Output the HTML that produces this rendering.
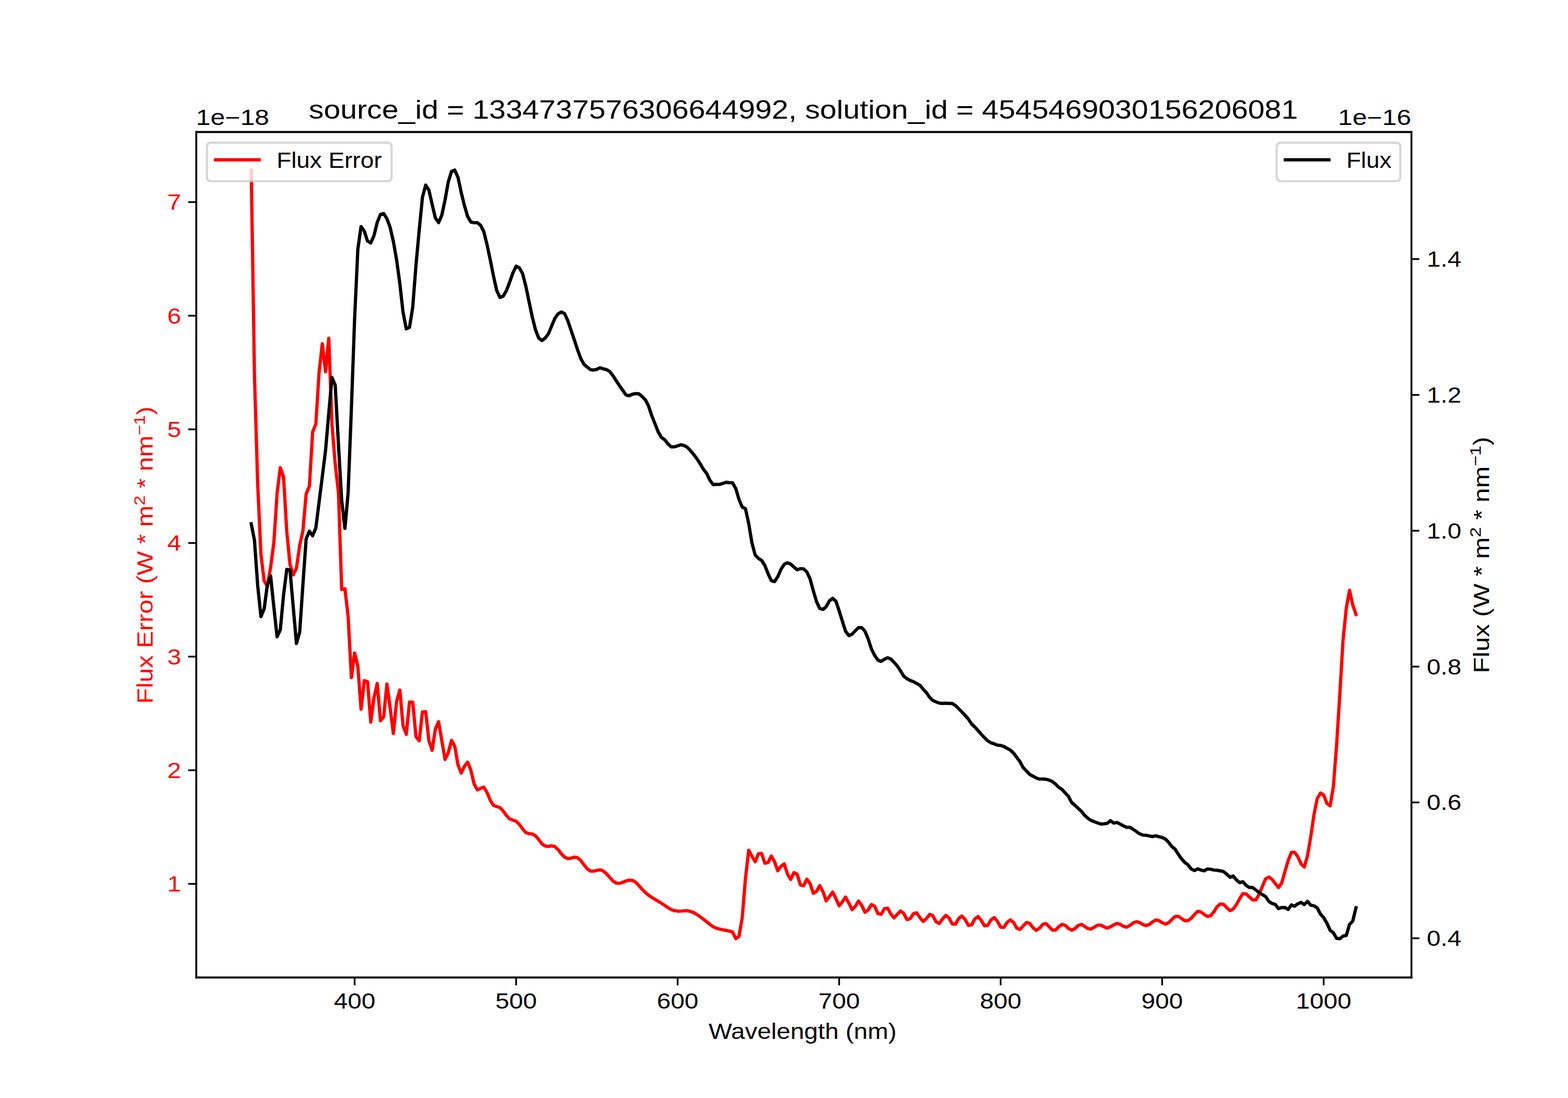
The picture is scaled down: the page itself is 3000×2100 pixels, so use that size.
<!DOCTYPE html>
<html lang="en"><head><meta charset="utf-8"><title>source_id = 1334737576306644992</title>
<style>
html,body{margin:0;padding:0;background:#fff}
body{width:3000px;height:2100px;overflow:hidden;font-family:"Liberation Sans",sans-serif}
svg{display:block}
svg text{font-family:"Liberation Sans",sans-serif}
</style></head><body>
<svg width="3000" height="2100" viewBox="0 0 720 504" role="img">
<defs>
<style type="text/css">*{stroke-linejoin: round; stroke-linecap: butt}</style>
</defs>
<g id="figure_1">
<g id="patch_1">
<path d="M 0 504  L 720 504  L 720 0  L 0 0  z " style="fill: #ffffff" />
</g>
<g id="axes_1">
<g id="patch_2">
<path d="M 90 448.56  L 648 448.56  L 648 60.48  L 90 60.48  z " style="fill: #ffffff" />
</g>
<g id="matplotlib.axis_1">
<g id="xtick_1">
<g id="line2d_1" transform="translate(0.0000 0.2160)">
<defs>
<path id="m1504cfccaf" d="M 0 0  L 0 3.5  " style="stroke: #000000; stroke-width: 0.8" />
</defs>
<g>
<use href="#m1504cfccaf" x="162.827751" y="448.56" style="stroke: #000000; stroke-width: 0.8" />
</g>
</g>
<g id="text_1" transform="translate(0.0000 -0.1440)">
<text x="153.284001" y="463.158437" font-size="10" fill="#000000" textLength="19.08" lengthAdjust="spacingAndGlyphs">400</text>
</g>
</g>
<g id="xtick_2">
<g id="line2d_2" transform="translate(0.0000 0.2160)">
<g>
<use href="#m1504cfccaf" x="236.990431" y="448.56" style="stroke: #000000; stroke-width: 0.8" />
</g>
</g>
<g id="text_2" transform="translate(0.0000 -0.1440)">
<text x="227.446681" y="463.158437" font-size="10" fill="#000000" textLength="19.08" lengthAdjust="spacingAndGlyphs">500</text>
</g>
</g>
<g id="xtick_3">
<g id="line2d_3" transform="translate(0.0000 0.2160)">
<g>
<use href="#m1504cfccaf" x="311.15311" y="448.56" style="stroke: #000000; stroke-width: 0.8" />
</g>
</g>
<g id="text_3" transform="translate(0.0000 -0.1440)">
<text x="301.60936" y="463.158437" font-size="10" fill="#000000" textLength="19.08" lengthAdjust="spacingAndGlyphs">600</text>
</g>
</g>
<g id="xtick_4">
<g id="line2d_4" transform="translate(0.0000 0.2160)">
<g>
<use href="#m1504cfccaf" x="385.315789" y="448.56" style="stroke: #000000; stroke-width: 0.8" />
</g>
</g>
<g id="text_4" transform="translate(0.0000 -0.1440)">
<text x="375.772039" y="463.158437" font-size="10" fill="#000000" textLength="19.08" lengthAdjust="spacingAndGlyphs">700</text>
</g>
</g>
<g id="xtick_5">
<g id="line2d_5" transform="translate(0.0000 0.2160)">
<g>
<use href="#m1504cfccaf" x="459.478469" y="448.56" style="stroke: #000000; stroke-width: 0.8" />
</g>
</g>
<g id="text_5" transform="translate(0.0000 -0.1440)">
<text x="449.934719" y="463.158437" font-size="10" fill="#000000" textLength="19.08" lengthAdjust="spacingAndGlyphs">800</text>
</g>
</g>
<g id="xtick_6">
<g id="line2d_6" transform="translate(0.0000 0.2160)">
<g>
<use href="#m1504cfccaf" x="533.641148" y="448.56" style="stroke: #000000; stroke-width: 0.8" />
</g>
</g>
<g id="text_6" transform="translate(0.0000 -0.1440)">
<text x="524.097398" y="463.158437" font-size="10" fill="#000000" textLength="19.08" lengthAdjust="spacingAndGlyphs">900</text>
</g>
</g>
<g id="xtick_7">
<g id="line2d_7" transform="translate(0.0000 0.2160)">
<g>
<use href="#m1504cfccaf" x="607.803828" y="448.56" style="stroke: #000000; stroke-width: 0.8" />
</g>
</g>
<g id="text_7" transform="translate(0.0000 -0.1440)">
<text x="595.078828" y="463.158437" font-size="10" fill="#000000" textLength="25.44" lengthAdjust="spacingAndGlyphs">1000</text>
</g>
</g>
<g id="text_8" transform="translate(-3.6162 0) scale(1.00980 1)">
<text x="325.807813" y="476.836563" font-size="10" fill="#000000" textLength="85.44" lengthAdjust="spacingAndGlyphs">Wavelength (nm)</text>
</g>
</g>
<g id="matplotlib.axis_2">
<g id="ytick_1">
<g id="line2d_8" transform="translate(-0.0720 0.0000)">
<defs>
<path id="m5d545ce8f8" d="M 0 0  L -3.5 0  " style="stroke: #000000; stroke-width: 0.8" />
</defs>
<g>
<use href="#m5d545ce8f8" x="90" y="405.72" style="stroke: #000000; stroke-width: 0.8" />
</g>
</g>
<g id="text_9" transform="translate(0.1560 -0.2160)">
<text x="76.6375" y="409.519219" font-size="10" fill="#ff0000" textLength="6.36" lengthAdjust="spacingAndGlyphs">1</text>
</g>
</g>
<g id="ytick_2">
<g id="line2d_9" transform="translate(-0.0720 0.0000)">
<g>
<use href="#m5d545ce8f8" x="90" y="353.56008" style="stroke: #000000; stroke-width: 0.8" />
</g>
</g>
<g id="text_10" transform="translate(0.1560 -0.2160)">
<text x="76.6375" y="357.359299" font-size="10" fill="#ff0000" textLength="6.36" lengthAdjust="spacingAndGlyphs">2</text>
</g>
</g>
<g id="ytick_3">
<g id="line2d_10" transform="translate(-0.0720 0.0000)">
<g>
<use href="#m5d545ce8f8" x="90" y="301.40016" style="stroke: #000000; stroke-width: 0.8" />
</g>
</g>
<g id="text_11" transform="translate(0.1560 -0.2160)">
<text x="76.6375" y="305.199379" font-size="10" fill="#ff0000" textLength="6.36" lengthAdjust="spacingAndGlyphs">3</text>
</g>
</g>
<g id="ytick_4">
<g id="line2d_11" transform="translate(-0.0720 0.0000)">
<g>
<use href="#m5d545ce8f8" x="90" y="249.24024" style="stroke: #000000; stroke-width: 0.8" />
</g>
</g>
<g id="text_12" transform="translate(0.1560 -0.2160)">
<text x="76.6375" y="253.039459" font-size="10" fill="#ff0000" textLength="6.36" lengthAdjust="spacingAndGlyphs">4</text>
</g>
</g>
<g id="ytick_5">
<g id="line2d_12" transform="translate(-0.0720 0.0000)">
<g>
<use href="#m5d545ce8f8" x="90" y="197.08032" style="stroke: #000000; stroke-width: 0.8" />
</g>
</g>
<g id="text_13" transform="translate(0.1560 -0.2160)">
<text x="76.6375" y="200.879539" font-size="10" fill="#ff0000" textLength="6.36" lengthAdjust="spacingAndGlyphs">5</text>
</g>
</g>
<g id="ytick_6">
<g id="line2d_13" transform="translate(-0.0720 0.0000)">
<g>
<use href="#m5d545ce8f8" x="90" y="144.9204" style="stroke: #000000; stroke-width: 0.8" />
</g>
</g>
<g id="text_14" transform="translate(0.1560 -0.2160)">
<text x="76.6375" y="148.719619" font-size="10" fill="#ff0000" textLength="6.36" lengthAdjust="spacingAndGlyphs">6</text>
</g>
</g>
<g id="ytick_7">
<g id="line2d_14" transform="translate(-0.0720 0.0000)">
<g>
<use href="#m5d545ce8f8" x="90" y="92.76048" style="stroke: #000000; stroke-width: 0.8" />
</g>
</g>
<g id="text_15" transform="translate(0.1560 -0.2160)">
<text x="76.6375" y="96.559699" font-size="10" fill="#ff0000" textLength="6.36" lengthAdjust="spacingAndGlyphs">7</text>
</g>
</g>
<g id="text_16">
<text transform="translate(70.197812 323.02) rotate(-90)" font-size="10" fill="#ff0000" textLength="136.42" lengthAdjust="spacingAndGlyphs">Flux Error (W * m<tspan font-size="7" dy="-3.8">2</tspan><tspan dy="3.8"> * nm</tspan><tspan font-size="7" dy="-3.8">−1</tspan><tspan dy="3.8">)</tspan></text>
</g>
<g id="text_17">
<text x="90" y="57.48" font-size="10" fill="#000000" textLength="33.63" lengthAdjust="spacingAndGlyphs">1e−18</text>
</g>
</g>
<g id="line2d_15">
<path d="M 115.363636 78.12  L 116.84689 172.56  L 118.330144 222.24  L 119.813397 254.472  L 121.296651 266.616  L 122.779904 269.112  L 124.263158 260.328  L 125.746411 249.048  L 127.229665 226.464  L 128.712919 214.68  L 130.196172 218.952  L 131.679426 244.032  L 133.162679 259.08  L 134.645933 263.88  L 136.129187 260.76  L 137.61244 250.296  L 139.095694 243.6  L 140.578947 226.68  L 142.062201 223.128  L 143.545455 198.36  L 145.028708 194.592  L 146.511962 170.976  L 147.995215 157.752  L 149.478469 170.64  L 150.961722 155.232  L 152.444976 194.808  L 153.92823 213.096  L 155.411483 226.056  L 156.894737 270.6  L 158.37799 270.24  L 159.861244 283.032  L 161.344498 311.04  L 162.827751 299.76  L 164.311005 305.808  L 165.794258 325.56  L 167.277512 312.384  L 168.760766 312.864  L 170.244019 331.464  L 171.727273 320.28  L 173.210526 313.728  L 174.69378 330.816  L 176.177033 329.088  L 177.660287 313.944  L 179.143541 324.96  L 180.626794 336.696  L 182.110048 321.96  L 183.593301 316.728  L 185.076555 333.12  L 186.559809 337.104  L 188.043062 322.248  L 189.526316 322.344  L 191.009569 338.136  L 192.492823 340.032  L 193.976077 326.784  L 195.45933 326.664  L 196.942584 340.032  L 198.425837 344.424  L 199.909091 334.584  L 201.392344 331.272  L 202.875598 340.032  L 204.358852 348.6  L 205.842105 345.456  L 207.325359 339.84  L 208.808612 342.528  L 210.291866 351.096  L 211.77512 354.864  L 213.258373 351.72  L 214.741627 349.848  L 216.22488 353.616  L 217.708134 359.88  L 219.191388 362.592  L 220.674641 361.872  L 222.157895 361.32  L 223.641148 363.768  L 225.124402 367.344  L 226.607656 369.696  L 228.090909 370.224  L 229.574163 370.704  L 231.057416 372.288  L 232.54067 374.328  L 234.023923 375.888  L 235.507177 376.464  L 236.990431 376.992  L 238.473684 378.408  L 239.956938 380.472  L 241.440191 382.176  L 242.923445 382.632  L 244.406699 382.824  L 245.889952 383.616  L 247.373206 385.392  L 248.856459 387.336  L 250.339713 388.344  L 251.822967 388.512  L 253.30622 388.248  L 254.789474 388.584  L 256.272727 390  L 257.755981 391.92  L 259.239234 393.432  L 260.722488 394.104  L 262.205742 393.936  L 263.688995 393.432  L 265.172249 393.696  L 266.655502 394.968  L 268.138756 396.96  L 269.62201 398.784  L 271.105263 399.792  L 272.588517 399.864  L 274.07177 399.528  L 275.555024 399.264  L 277.038278 399.792  L 278.521531 401.088  L 280.004785 402.792  L 281.488038 404.424  L 282.971292 405.36  L 284.454545 405.456  L 285.937799 405  L 287.421053 404.4  L 288.904306 403.992  L 290.38756 404.088  L 291.870813 404.952  L 293.354067 406.512  L 294.837321 408.168  L 296.320574 409.632  L 297.803828 410.904  L 299.287081 411.936  L 300.770335 412.848  L 302.253589 413.736  L 303.736842 414.648  L 305.220096 415.584  L 306.703349 416.616  L 308.186603 417.504  L 309.669856 418.008  L 311.15311 418.2  L 312.636364 418.2  L 314.119617 418.08  L 315.602871 418.08  L 317.086124 418.344  L 318.569378 418.92  L 320.052632 419.808  L 321.535885 420.84  L 323.019139 421.944  L 324.502392 423.12  L 325.985646 424.32  L 327.4689 425.376  L 328.952153 426.048  L 330.435407 426.48  L 331.91866 426.792  L 333.401914 427.056  L 334.885167 427.368  L 336.368421 427.824  L 337.851675 430.848  L 339.334928 429.72  L 340.818182 421.224  L 342.301435 403.248  L 343.784689 390.288  L 345.267943 393  L 346.751196 395.52  L 348.23445 391.872  L 349.717703 391.752  L 351.200957 396.216  L 352.684211 395.928  L 354.167464 392.928  L 355.650718 395.52  L 357.133971 399.696  L 358.617225 397.608  L 360.100478 396.552  L 361.583732 401.16  L 363.066986 403.68  L 364.550239 400.536  L 366.033493 401.232  L 367.516746 406.176  L 369 406.584  L 370.483254 403.536  L 371.966507 405.552  L 373.449761 410.064  L 374.933014 409.104  L 376.416268 406.512  L 377.899522 409.32  L 379.382775 413.496  L 380.866029 411.528  L 382.349282 409.512  L 383.832536 412.44  L 385.315789 415.8  L 386.799043 413.904  L 388.282297 411.816  L 389.76555 414.528  L 391.248804 417.6  L 392.732057 415.992  L 394.215311 413.616  L 395.698565 415.584  L 397.181818 418.728  L 398.665072 417.672  L 400.148325 415.176  L 401.631579 415.992  L 403.114833 419.352  L 404.598086 419.688  L 406.08134 417.12  L 407.564593 416.832  L 409.047847 419.544  L 410.5311 421.32  L 412.014354 419.712  L 413.497608 418.152  L 414.980861 419.28  L 416.464115 422.112  L 417.947368 421.704  L 419.430622 419.4  L 420.913876 418.992  L 422.397129 421.2  L 423.880383 422.952  L 425.363636 421.704  L 426.84689 419.736  L 428.330144 420.288  L 429.813397 423.096  L 431.296651 423.912  L 432.779904 421.824  L 434.263158 420.168  L 435.746411 421.296  L 437.229665 424.056  L 438.712919 424.224  L 440.196172 421.632  L 441.679426 420.456  L 443.162679 422.04  L 444.645933 424.752  L 446.129187 424.56  L 447.61244 421.824  L 449.095694 420.696  L 450.578947 422.448  L 452.062201 424.968  L 453.545455 424.752  L 455.028708 422.256  L 456.511962 421.2  L 457.995215 422.88  L 459.478469 425.592  L 460.961722 425.688  L 462.444976 423.432  L 463.92823 422.256  L 465.411483 423.432  L 466.894737 426.024  L 468.37799 426.648  L 469.861244 424.968  L 471.344498 423.432  L 472.827751 423.84  L 474.311005 425.808  L 475.794258 427.056  L 477.277512 426.096  L 478.760766 424.344  L 480.244019 423.912  L 481.727273 425.376  L 483.210526 426.936  L 484.69378 426.936  L 486.177033 425.376  L 487.660287 424.344  L 489.143541 424.752  L 490.626794 426.144  L 492.110048 426.984  L 493.593301 426.216  L 495.076555 424.824  L 496.559809 424.32  L 498.043062 425.184  L 499.526316 426.24  L 501.009569 426.432  L 502.492823 425.568  L 503.976077 424.68  L 505.45933 424.656  L 506.942584 425.4  L 508.425837 426.024  L 509.909091 425.4  L 511.392344 424.56  L 512.875598 423.864  L 514.358852 424.272  L 515.842105 425.184  L 517.325359 425.616  L 518.808612 424.776  L 520.291866 423.648  L 521.77512 423.096  L 523.258373 423.432  L 524.741627 424.368  L 526.22488 424.848  L 527.708134 424.368  L 529.191388 423.192  L 530.674641 422.256  L 532.157895 422.568  L 533.641148 423.528  L 535.124402 424.152  L 536.607656 423.528  L 538.090909 422.064  L 539.574163 420.672  L 541.057416 420.6  L 542.54067 421.632  L 544.023923 422.592  L 545.507177 422.592  L 546.990431 421.512  L 548.473684 419.76  L 549.956938 418.296  L 551.440191 418.584  L 552.923445 419.736  L 554.406699 420.624  L 555.889952 420.336  L 557.373206 418.56  L 558.856459 416.208  L 560.339713 414.96  L 561.822967 415.104  L 563.30622 416.64  L 564.789474 418.008  L 566.272727 417.24  L 567.755981 415.224  L 569.239234 412.488  L 570.722488 410.16  L 572.205742 410.352  L 573.688995 411.72  L 575.172249 413.064  L 576.655502 413.088  L 578.138756 410.568  L 579.62201 406.92  L 581.105263 403.416  L 582.588517 402.576  L 584.07177 403.56  L 585.555024 405.552  L 587.038278 407.424  L 588.521531 405.336  L 590.004785 400.08  L 591.488038 395.088  L 592.971292 391.248  L 594.454545 391.248  L 595.937799 393.216  L 597.421053 396.552  L 598.904306 398.016  L 600.38756 392.808  L 601.870813 384.024  L 603.354067 373.92  L 604.837321 366.6  L 606.320574 364.032  L 607.803828 364.92  L 609.287081 368.784  L 610.770335 369.888  L 612.253589 361.104  L 613.736842 342.096  L 615.220096 318.672  L 616.703349 293.784  L 618.186603 279.168  L 619.669856 270.96  L 621.15311 277.704  L 622.636364 282.096  " clip-path="url(#p6128e1a9c3)" style="fill: none; stroke: #ff0000; stroke-width: 1.5; stroke-linecap: square" />
</g>
<g id="patch_3" transform="translate(0.1200 0.1200)">
<path d="M 90 448.56  L 90 60.48  " style="fill: none; stroke: #000000; stroke-width: 0.8; stroke-linejoin: miter; stroke-linecap: square" />
</g>
<g id="patch_4" transform="translate(0.1200 0.1200)">
<path d="M 648 448.56  L 648 60.48  " style="fill: none; stroke: #000000; stroke-width: 0.8; stroke-linejoin: miter; stroke-linecap: square" />
</g>
<g id="patch_5" transform="translate(0.1200 0.1200)">
<path d="M 90 448.56  L 648 448.56  " style="fill: none; stroke: #000000; stroke-width: 0.8; stroke-linejoin: miter; stroke-linecap: square" />
</g>
<g id="patch_6" transform="translate(0.1200 0.1200)">
<path d="M 90 60.48  L 648 60.48  " style="fill: none; stroke: #000000; stroke-width: 0.8; stroke-linejoin: miter; stroke-linecap: square" />
</g>
<g id="text_18">
<text x="141.805313" y="54.48" font-size="12" fill="#000000" textLength="454.17" lengthAdjust="spacingAndGlyphs">source_id = 1334737576306644992, solution_id = 4545469030156206081</text>
</g>
<g id="legend_1">
<g id="patch_7">
<path d="M 97.000000 83.158125  L 177.814375 83.158125  Q 179.814375 83.158125 179.814375 81.158125  L 179.814375 67.48  Q 179.814375 65.48 177.814375 65.48  L 97.000000 65.48  Q 95.000000 65.48 95.000000 67.48  L 95.000000 81.158125  Q 95.000000 83.158125 97.000000 83.158125  z " style="fill: #ffffff; opacity: 0.8; stroke: #cccccc; stroke-linejoin: miter" />
</g>
<g id="line2d_16" transform="translate(0.0000 -0.2040)">
<path d="M 99 73.578438  L 109 73.578438  L 119 73.578438  " style="fill: none; stroke: #ff0000; stroke-width: 1.5; stroke-linecap: square" />
</g>
<g id="text_19" transform="translate(-1.1176 0) scale(1.00880 1)">
<text x="127" y="77.078438" font-size="10" fill="#000000" textLength="47.88" lengthAdjust="spacingAndGlyphs">Flux Error</text>
</g>
</g>
</g>
<g id="axes_2">
<g id="matplotlib.axis_3">
<g id="ytick_8">
<g id="line2d_17" transform="translate(0.2400 0.0000)">
<defs>
<path id="m33c4ce201d" d="M 0 0  L 3.5 0  " style="stroke: #000000; stroke-width: 0.8" />
</defs>
<g>
<use href="#m33c4ce201d" x="648" y="430.68" style="stroke: #000000; stroke-width: 0.8" />
</g>
</g>
<g id="text_20" transform="translate(0.1200 -0.2880)">
<text x="655" y="434.479219" font-size="10" fill="#000000" textLength="15.90" lengthAdjust="spacingAndGlyphs">0.4</text>
</g>
</g>
<g id="ytick_9">
<g id="line2d_18" transform="translate(0.2400 0.0000)">
<g>
<use href="#m33c4ce201d" x="648" y="368.328" style="stroke: #000000; stroke-width: 0.8" />
</g>
</g>
<g id="text_21" transform="translate(0.1200 -0.2880)">
<text x="655" y="372.127219" font-size="10" fill="#000000" textLength="15.90" lengthAdjust="spacingAndGlyphs">0.6</text>
</g>
</g>
<g id="ytick_10">
<g id="line2d_19" transform="translate(0.2400 0.0000)">
<g>
<use href="#m33c4ce201d" x="648" y="305.976" style="stroke: #000000; stroke-width: 0.8" />
</g>
</g>
<g id="text_22" transform="translate(0.1200 -0.2880)">
<text x="655" y="309.775219" font-size="10" fill="#000000" textLength="15.90" lengthAdjust="spacingAndGlyphs">0.8</text>
</g>
</g>
<g id="ytick_11">
<g id="line2d_20" transform="translate(0.2400 0.0000)">
<g>
<use href="#m33c4ce201d" x="648" y="243.624" style="stroke: #000000; stroke-width: 0.8" />
</g>
</g>
<g id="text_23" transform="translate(0.1200 -0.2880)">
<text x="655" y="247.423219" font-size="10" fill="#000000" textLength="15.90" lengthAdjust="spacingAndGlyphs">1.0</text>
</g>
</g>
<g id="ytick_12">
<g id="line2d_21" transform="translate(0.2400 0.0000)">
<g>
<use href="#m33c4ce201d" x="648" y="181.272" style="stroke: #000000; stroke-width: 0.8" />
</g>
</g>
<g id="text_24" transform="translate(0.1200 -0.2880)">
<text x="655" y="185.071219" font-size="10" fill="#000000" textLength="15.90" lengthAdjust="spacingAndGlyphs">1.2</text>
</g>
</g>
<g id="ytick_13">
<g id="line2d_22" transform="translate(0.2400 0.0000)">
<g>
<use href="#m33c4ce201d" x="648" y="118.92" style="stroke: #000000; stroke-width: 0.8" />
</g>
</g>
<g id="text_25" transform="translate(0.1200 -0.2880)">
<text x="655" y="122.719219" font-size="10" fill="#000000" textLength="15.90" lengthAdjust="spacingAndGlyphs">1.4</text>
</g>
</g>
<g id="text_26">
<text transform="translate(683.683438 309.02) rotate(-90)" font-size="10" fill="#000000" textLength="108.50" lengthAdjust="spacingAndGlyphs">Flux (W * m<tspan font-size="7" dy="-3.8">2</tspan><tspan dy="3.8"> * nm</tspan><tspan font-size="7" dy="-3.8">−1</tspan><tspan dy="3.8">)</tspan></text>
</g>
<g id="text_27">
<text x="614.379688" y="57.48" font-size="10" fill="#000000" textLength="33.60" lengthAdjust="spacingAndGlyphs">1e−16</text>
</g>
</g>
<g id="line2d_23">
<path d="M 115.363636 240.408  L 116.84689 247.992  L 118.330144 268.8  L 119.813397 283.032  L 121.296651 279.48  L 122.779904 268.32  L 124.263158 264.336  L 125.746411 278.64  L 127.229665 292.272  L 128.712919 289.08  L 130.196172 273.192  L 131.679426 261.36  L 133.162679 261.6  L 134.645933 278.64  L 136.129187 295.368  L 137.61244 290.16  L 139.095694 268.32  L 140.578947 247.368  L 142.062201 243.816  L 143.545455 245.904  L 145.028708 242.352  L 146.511962 230.544  L 147.995215 218.712  L 149.478469 206.88  L 150.961722 189.792  L 152.444976 173.28  L 153.92823 176.832  L 155.411483 204  L 156.894737 229.824  L 158.37799 242.568  L 159.861244 226.056  L 161.344498 187.68  L 162.827751 146.4  L 164.311005 114.432  L 165.794258 103.992  L 167.277512 106.08  L 168.760766 110.664  L 170.244019 111.504  L 171.727273 108.168  L 173.210526 102.096  L 174.69378 98.424  L 176.177033 98.016  L 177.660287 100.344  L 179.143541 104.4  L 180.626794 110.88  L 182.110048 119.256  L 183.593301 130.128  L 185.076555 143.376  L 186.559809 150.96  L 188.043062 150.24  L 189.526316 140.88  L 191.009569 121.752  L 192.492823 105.648  L 193.976077 90.6  L 195.45933 84.96  L 196.942584 87.264  L 198.425837 93.744  L 199.909091 100.008  L 201.392344 102.192  L 202.875598 98.76  L 204.358852 91.776  L 205.842105 83.52  L 207.325359 78.696  L 208.808612 78.072  L 210.291866 81.408  L 211.77512 88.296  L 213.258373 94.368  L 214.741627 99.384  L 216.22488 101.904  L 217.708134 102.24  L 219.191388 102.192  L 220.674641 103.44  L 222.157895 106.296  L 223.641148 112.344  L 225.124402 119.256  L 226.607656 126.768  L 228.090909 133.368  L 229.574163 136.512  L 231.057416 135.96  L 232.54067 133.416  L 234.023923 129.528  L 235.507177 125.304  L 236.990431 122.184  L 238.473684 122.928  L 239.956938 125.592  L 241.440191 131.328  L 242.923445 138.432  L 244.406699 145.488  L 245.889952 151.344  L 247.373206 155.184  L 248.856459 156.264  L 250.339713 155.184  L 251.822967 153.216  L 253.30622 149.664  L 254.789474 146.112  L 256.272727 144.024  L 257.755981 143.184  L 259.239234 143.952  L 260.722488 147.168  L 262.205742 151.56  L 263.688995 155.952  L 265.172249 160.464  L 266.655502 164.52  L 268.138756 167.232  L 269.62201 168.48  L 271.105263 169.656  L 272.588517 169.872  L 274.07177 169.536  L 275.555024 168.816  L 277.038278 169.32  L 278.521531 169.656  L 280.004785 170.568  L 281.488038 172.464  L 282.971292 174.768  L 284.454545 177.048  L 285.937799 179.136  L 287.421053 181.248  L 288.904306 181.656  L 290.38756 180.936  L 291.870813 180.696  L 293.354067 180.744  L 294.837321 182.016  L 296.320574 183.48  L 297.803828 186.336  L 299.287081 190.848  L 300.770335 194.568  L 302.253589 198.288  L 303.736842 200.808  L 305.220096 201.84  L 306.703349 203.736  L 308.186603 205.104  L 309.669856 205.104  L 311.15311 204.648  L 312.636364 204.144  L 314.119617 204.48  L 315.602871 205.32  L 317.086124 206.856  L 318.569378 208.656  L 320.052632 210.624  L 321.535885 212.928  L 323.019139 215.424  L 324.502392 217.32  L 325.985646 220.44  L 327.4689 222.456  L 328.952153 222.336  L 330.435407 222.336  L 331.91866 221.904  L 333.401914 221.376  L 334.885167 221.544  L 336.368421 221.616  L 337.851675 224.208  L 339.334928 229.224  L 340.818182 232.776  L 342.301435 233.496  L 343.784689 240.264  L 345.267943 249.144  L 346.751196 254.712  L 348.23445 256.296  L 349.717703 257.232  L 351.200957 259.56  L 352.684211 263.328  L 354.167464 266.544  L 355.650718 266.976  L 357.133971 264.744  L 358.617225 261.336  L 360.100478 259.032  L 361.583732 258.312  L 363.066986 258.936  L 364.550239 260.28  L 366.033493 261.528  L 367.516746 261.024  L 369 261.12  L 370.483254 262.488  L 371.966507 265.704  L 373.449761 271.152  L 374.933014 276.168  L 376.416268 279.312  L 377.899522 279.72  L 379.382775 278.472  L 380.866029 275.76  L 382.349282 274.632  L 383.832536 275.952  L 385.315789 280.344  L 386.799043 285.168  L 388.282297 289.752  L 389.76555 291.768  L 391.248804 291.096  L 392.732057 289.536  L 394.215311 288.072  L 395.698565 288.072  L 397.181818 289.752  L 398.665072 293.304  L 400.148325 297.912  L 401.631579 300.84  L 403.114833 303  L 404.598086 303.6  L 406.08134 302.592  L 407.564593 301.92  L 409.047847 302.496  L 410.5311 304.008  L 412.014354 305.712  L 413.497608 307.92  L 414.980861 310.368  L 416.464115 311.52  L 417.947368 312.36  L 419.430622 312.864  L 420.913876 313.704  L 422.397129 314.544  L 423.880383 316.344  L 425.363636 317.88  L 426.84689 320.064  L 428.330144 321.528  L 429.813397 322.152  L 431.296651 322.728  L 432.779904 322.896  L 434.263158 322.776  L 435.746411 322.896  L 437.229665 322.896  L 438.712919 323.832  L 440.196172 325.296  L 441.679426 326.784  L 443.162679 328.344  L 444.645933 330.024  L 446.129187 332.304  L 447.61244 333.696  L 449.095694 335.328  L 450.578947 337.032  L 452.062201 338.592  L 453.545455 340.056  L 455.028708 340.968  L 456.511962 341.424  L 457.995215 342.024  L 459.478469 342.144  L 460.961722 342.672  L 462.444976 343.512  L 463.92823 344.304  L 465.411483 345.696  L 466.894737 347.664  L 468.37799 349.656  L 469.861244 352.392  L 471.344498 353.904  L 472.827751 355.488  L 474.311005 356.256  L 475.794258 357.096  L 477.277512 357.6  L 478.760766 357.576  L 480.244019 357.672  L 481.727273 358.08  L 483.210526 358.728  L 484.69378 359.904  L 486.177033 361.416  L 487.660287 362.352  L 489.143541 364.008  L 490.626794 365.568  L 492.110048 368.4  L 493.593301 369.648  L 495.076555 371.04  L 496.559809 372.384  L 498.043062 374.256  L 499.526316 375.6  L 501.009569 376.632  L 502.492823 377.184  L 503.976077 377.736  L 505.45933 378.24  L 506.942584 378.144  L 508.425837 377.928  L 509.909091 376.68  L 511.392344 377.808  L 512.875598 377.52  L 514.358852 378.24  L 515.842105 379.08  L 517.325359 379.752  L 518.808612 379.704  L 520.291866 380.64  L 521.77512 381.672  L 523.258373 382.728  L 524.741627 383.304  L 526.22488 383.4  L 527.708134 383.688  L 529.191388 384.024  L 530.674641 383.616  L 532.157895 384.072  L 533.641148 384.456  L 535.124402 385.128  L 536.607656 386.64  L 538.090909 388.584  L 539.574163 389.76  L 541.057416 392.088  L 542.54067 394.224  L 544.023923 395.856  L 545.507177 396.984  L 546.990431 398.88  L 548.473684 399.6  L 549.956938 398.808  L 551.440191 399.36  L 552.923445 399.72  L 554.406699 398.88  L 555.889952 399  L 557.373206 399.36  L 558.856459 399.456  L 560.339713 399.744  L 561.822967 400.032  L 563.30622 401.28  L 564.789474 402.672  L 566.272727 402.12  L 567.755981 403.92  L 569.239234 405.168  L 570.722488 404.712  L 572.205742 406.416  L 573.688995 407.352  L 575.172249 407.352  L 576.655502 408.504  L 578.138756 409.68  L 579.62201 410.64  L 581.105263 411.456  L 582.588517 413.736  L 584.07177 414.696  L 585.555024 415.128  L 587.038278 417.072  L 588.521531 416.592  L 590.004785 416.568  L 591.488038 417.456  L 592.971292 415.368  L 594.454545 415.992  L 595.937799 414.864  L 597.421053 414.216  L 598.904306 415.248  L 600.38756 413.712  L 601.870813 415.512  L 603.354067 415.8  L 604.837321 416.712  L 606.320574 419.568  L 607.803828 421.224  L 609.287081 423.744  L 610.770335 427.008  L 612.253589 428.136  L 613.736842 430.728  L 615.220096 430.92  L 616.703349 429.672  L 618.186603 429.384  L 619.669856 424.368  L 621.15311 422.808  L 622.636364 416.712  " clip-path="url(#p6128e1a9c3)" style="fill: none; stroke: #000000; stroke-width: 1.5; stroke-linecap: square" />
</g>
<g id="patch_8" transform="translate(0.1200 0.1200)">
<path d="M 90 448.56  L 90 60.48  " style="fill: none; stroke: #000000; stroke-width: 0.8; stroke-linejoin: miter; stroke-linecap: square" />
</g>
<g id="patch_9" transform="translate(0.1200 0.1200)">
<path d="M 648 448.56  L 648 60.48  " style="fill: none; stroke: #000000; stroke-width: 0.8; stroke-linejoin: miter; stroke-linecap: square" />
</g>
<g id="patch_10" transform="translate(0.1200 0.1200)">
<path d="M 90 448.56  L 648 448.56  " style="fill: none; stroke: #000000; stroke-width: 0.8; stroke-linejoin: miter; stroke-linecap: square" />
</g>
<g id="patch_11" transform="translate(0.1200 0.1200)">
<path d="M 90 60.48  L 648 60.48  " style="fill: none; stroke: #000000; stroke-width: 0.8; stroke-linejoin: miter; stroke-linecap: square" />
</g>
<g id="legend_2">
<g id="patch_12">
<path d="M 588.214062 83.158125  L 641 83.158125  Q 643 83.158125 643 81.158125  L 643 67.48  Q 643 65.48 641 65.48  L 588.214062 65.48  Q 586.214062 65.48 586.214062 67.48  L 586.214062 81.158125  Q 586.214062 83.158125 588.214062 83.158125  z " style="fill: #ffffff; opacity: 0.8; stroke: #cccccc; stroke-linejoin: miter" />
</g>
<g id="line2d_24" transform="translate(0.0000 -0.2040)">
<path d="M 590.214062 73.578438  L 600.214062 73.578438  L 610.214062 73.578438  " style="fill: none; stroke: #000000; stroke-width: 1.5; stroke-linecap: square" />
</g>
<g id="text_28">
<text x="618.214062" y="77.078438" font-size="10" fill="#000000" textLength="20.76" lengthAdjust="spacingAndGlyphs">Flux</text>
</g>
</g>
</g>
</g>
<defs>
<clipPath id="p6128e1a9c3">
<rect x="90" y="60.48" width="558" height="388.08" />
</clipPath>
</defs>
</svg>
</body></html>
